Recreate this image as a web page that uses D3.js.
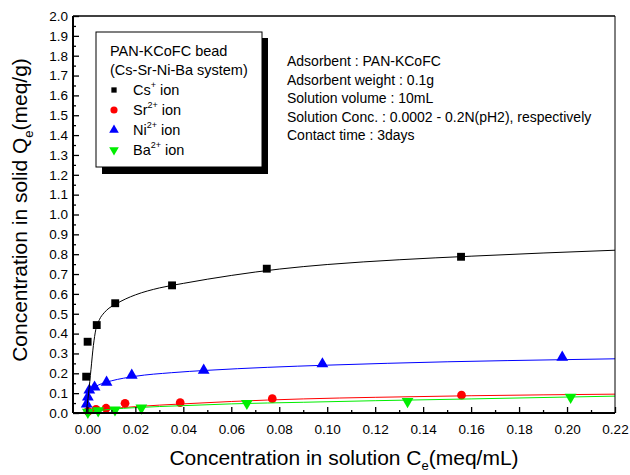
<!DOCTYPE html>
<html>
<head>
<meta charset="utf-8">
<style>
body { margin: 0; background: #fff; }
svg text { font-family: "Liberation Sans", Arial, sans-serif; }
</style>
</head>
<body>
<div id="chart"></div>
<script src="https://d3js.org/d3.v7.min.js"></script>
<script>
// measured points [x, y]
const csPoints = [[-0.0005, 0.183], [0.0001, 0.359], [0.0039, 0.443], [0.0116, 0.553], [0.0353, 0.643], [0.0748, 0.727], [0.1558, 0.787]];
const srPoints = [[0.0003, 0.008], [0.0036, 0.018], [0.0078, 0.024], [0.0157, 0.049], [0.0387, 0.052], [0.0771, 0.072], [0.156, 0.09]];
const niPoints = [[-0.0003, 0.045], [0.0002, 0.08], [0.0008, 0.115], [0.003, 0.13], [0.008, 0.155], [0.0185, 0.19], [0.0485, 0.215], [0.098, 0.247], [0.198, 0.28]];
const baPoints = [[0.0002, 0.004], [0.0045, 0.012], [0.0115, 0.016], [0.0225, 0.026], [0.0665, 0.049], [0.1335, 0.058], [0.2015, 0.08]];

// fitted curves
const csFit = [[-0.0005, 0], [0.0005, 0.1], [0.0015, 0.22], [0.0025, 0.34], [0.0035, 0.42], [0.005, 0.47], [0.007, 0.505], [0.009, 0.528], [0.012, 0.55], [0.016, 0.575], [0.02, 0.595], [0.03, 0.63], [0.04, 0.653], [0.06, 0.693], [0.08, 0.725], [0.10, 0.748], [0.13, 0.772], [0.16, 0.79], [0.19, 0.806], [0.22, 0.82]];
const srFit = [[0, 0], [0.005, 0.015], [0.01, 0.022], [0.02, 0.032], [0.04, 0.046], [0.06, 0.058], [0.09, 0.071], [0.12, 0.079], [0.16, 0.087], [0.22, 0.095]];
const niFit = [[-0.0003, 0], [0.0003, 0.07], [0.001, 0.11], [0.003, 0.13], [0.006, 0.148], [0.01, 0.162], [0.02, 0.185], [0.035, 0.203], [0.05, 0.215], [0.075, 0.23], [0.1, 0.241], [0.15, 0.258], [0.2, 0.269], [0.22, 0.273]];
const baFit = [[0, 0], [0.005, 0.012], [0.01, 0.019], [0.02, 0.027], [0.04, 0.037], [0.06, 0.046], [0.09, 0.054], [0.12, 0.062], [0.16, 0.071], [0.22, 0.085]];

const xTicks = [0, 0.02, 0.04, 0.06, 0.08, 0.10, 0.12, 0.14, 0.16, 0.18, 0.20, 0.22];
const yTicks = d3.range(0, 21).map(i => i / 10);

const notes = ["Adsorbent : PAN-KCoFC", "Adsorbent weight : 0.1g", "Solution volume : 10mL",
  "Solution Conc. : 0.0002 - 0.2N(pH2), respectively", "Contact time : 3days"];

const W = 630, H = 475;
const m = {left: 73, right: 15, top: 16, bottom: 62};

const svg = d3.select("#chart").append("svg").attr("width", W).attr("height", H);

const x = d3.scaleLinear().domain([-0.006, 0.22]).range([m.left, W - m.right]);
const y = d3.scaleLinear().domain([0, 2.0]).range([H - m.bottom, m.top]);

const plot = svg.append("g");

// minor ticks
const xMinor = d3.range(0, 23).map(i => i / 100).filter(v => !xTicks.some(t => Math.abs(t - v) < 1e-9));
const yMinor = d3.range(0, 20).map(i => i / 10 + 0.05);

svg.append("g").attr("transform", `translate(0,${y(0)})`)
  .call(d3.axisBottom(x).tickValues(xTicks).tickSize(-6).tickPadding(11).tickFormat(d3.format(".2f")));
svg.append("g").attr("transform", `translate(0,${y(0)})`)
  .call(d3.axisBottom(x).tickValues(xMinor).tickSize(-3).tickFormat(""));
svg.append("g").attr("transform", `translate(${m.left},0)`)
  .call(d3.axisLeft(y).tickValues(yTicks).tickSize(-6).tickPadding(5).tickFormat(d3.format(".1f")));
svg.append("g").attr("transform", `translate(${m.left},0)`)
  .call(d3.axisLeft(y).tickValues(yMinor).tickSize(-3).tickFormat(""));

svg.selectAll(".domain").remove();
svg.selectAll(".tick line").attr("stroke", "#000").attr("stroke-width", 1.3);
svg.selectAll(".tick text").attr("font-size", 13.5).attr("fill", "#000")
  .style("font-family", "'Liberation Sans', Arial, sans-serif");

// frame
svg.append("line").attr("x1", m.left).attr("x2", m.left).attr("y1", m.top).attr("y2", y(0)).attr("stroke", "#000").attr("stroke-width", 2);
svg.append("line").attr("x1", m.left).attr("x2", W - m.right).attr("y1", y(0)).attr("y2", y(0)).attr("stroke", "#000").attr("stroke-width", 2);
svg.append("line").attr("x1", m.left).attr("x2", W - m.right).attr("y1", m.top).attr("y2", m.top).attr("stroke", "#000").attr("stroke-width", 1.5);
svg.append("line").attr("x1", W - m.right).attr("x2", W - m.right).attr("y1", m.top).attr("y2", y(0)).attr("stroke", "#000").attr("stroke-width", 1);

const line = d3.line().x(d => x(d[0])).y(d => y(d[1])).curve(d3.curveMonotoneX);

const series = [
  {fit: srFit, pts: srPoints, color: "#ff0000", sym: d3.symbolCircle, size: 60},
  {fit: baFit, pts: baPoints, color: "#00ee00", sym: d3.symbolTriangle, size: 60, flip: true},
  {fit: niFit, pts: niPoints, color: "#0000ff", sym: d3.symbolTriangle, size: 60},
  {fit: csFit, pts: csPoints, color: "#000000", sym: d3.symbolSquare, size: 62}
];

series.forEach(s => {
  plot.append("path").datum(s.fit).attr("d", line).attr("fill", "none")
    .attr("stroke", s.color).attr("stroke-width", 1);
  plot.selectAll(null).data(s.pts).join("path")
    .attr("d", d3.symbol().type(s.sym).size(s.size))
    .attr("transform", d => `translate(${x(d[0])},${y(d[1])})` + (s.flip ? " rotate(180)" : ""))
    .attr("fill", s.color);
});

// legend box with shadow
const lg = svg.append("g");
lg.append("rect").attr("x", 102).attr("y", 38).attr("width", 166).attr("height", 136).attr("fill", "#000");
lg.append("rect").attr("x", 96).attr("y", 32).attr("width", 166).attr("height", 135)
  .attr("fill", "#fff").attr("stroke", "#000").attr("stroke-width", 1);
lg.append("text").attr("x", 110).attr("y", 56).attr("font-size", 14.5).text("PAN-KCoFC bead");
lg.append("text").attr("x", 110).attr("y", 75).attr("font-size", 14.5).text("(Cs-Sr-Ni-Ba system)");

const legendItems = [
  {name: "Cs", ch: "+", color: "#000", sym: d3.symbolSquare, size: 28},
  {name: "Sr", ch: "2+", color: "#ff0000", sym: d3.symbolCircle, size: 40},
  {name: "Ni", ch: "2+", color: "#0000ff", sym: d3.symbolTriangle, size: 40},
  {name: "Ba", ch: "2+", color: "#00ee00", sym: d3.symbolTriangle, size: 40, flip: true}
];
legendItems.forEach((d, i) => {
  const cy = 90 + i * 20;
  lg.append("path").attr("d", d3.symbol().type(d.sym).size(d.size)())
    .attr("transform", `translate(114,${cy})` + (d.flip ? " rotate(180)" : "")).attr("fill", d.color);
  const t = lg.append("text").attr("x", 133).attr("y", cy + 5).attr("font-size", 14.5);
  t.append("tspan").text(d.name);
  t.append("tspan").attr("font-size", 9).attr("dy", -7).text(d.ch);
  t.append("tspan").attr("dy", 7).text(" ion");
});

// notes
svg.selectAll(".note").data(notes).join("text").attr("class", "note")
  .attr("x", 287).attr("y", (d, i) => 66 + i * 18.5).attr("font-size", 14).text(d => d);

// axis labels
const xl = svg.append("text").attr("x", 344).attr("y", 465).attr("text-anchor", "middle").attr("font-size", 21);
xl.append("tspan").text("Concentration in solution C");
xl.append("tspan").attr("font-size", 13).attr("dy", 5).text("e");
xl.append("tspan").attr("dy", -5).text("(meq/mL)");

const yl = svg.append("text").attr("transform", "translate(27,210) rotate(-90)").attr("text-anchor", "middle").attr("font-size", 21);
yl.append("tspan").text("Concentration in solid Q");
yl.append("tspan").attr("font-size", 13).attr("dy", 6).text("e");
yl.append("tspan").attr("dy", -6).text("(meq/g)");
</script>
</body>
</html>
